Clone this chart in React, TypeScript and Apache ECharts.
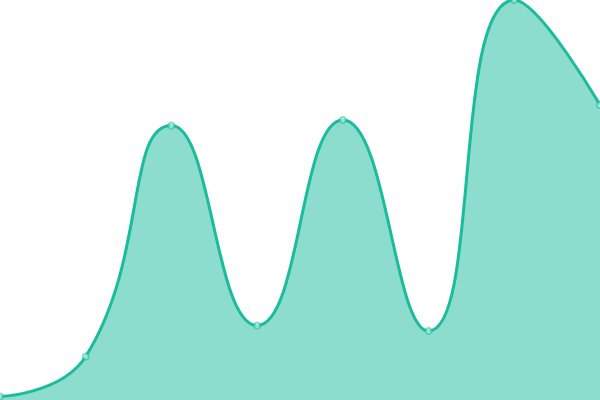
import React, { useEffect, useRef } from "react";
import * as echarts from "echarts";

const categories = ["1", "2", "3", "4", "5", "6", "7", "8"];
const values = [3.5, 43.5, 274.5, 74.5, 280, 69, 400, 295];
const yMax = 400;

export default function App() {
  const ref = useRef<HTMLDivElement>(null);
  useEffect(() => {
    if (!ref.current) return;
    const chart = echarts.init(ref.current, undefined, { renderer: "svg" });
    chart.setOption({
      animation: false,
      grid: { left: 0, right: 0, top: 0, bottom: 0 },
      xAxis: {
        type: "category",
        data: categories,
        boundaryGap: false,
        show: false,
      },
      yAxis: { type: "value", min: 0, max: yMax, show: false },
      series: [
        {
          type: "line",
          data: values,
          smooth: true,
          symbol: "emptyCircle",
          symbolSize: 6,
          lineStyle: { color: "#1abc9c", width: 3 },
          itemStyle: { color: "#1abc9c", borderColor: "#1abc9c", borderWidth: 1.5, opacity: 0.55 },
          areaStyle: { color: "#1abc9c", opacity: 0.5 },
        },
      ],
    });
    return () => chart.dispose();
  }, []);
  return (
    <div
      ref={ref}
      style={{ position: "fixed", left: 0, top: 0, width: 600, height: 400 }}
    />
  );
}
